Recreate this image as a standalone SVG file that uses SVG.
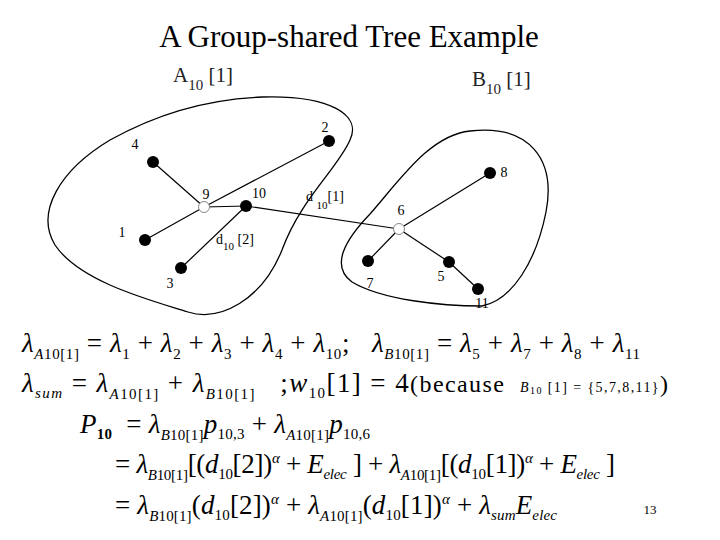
<svg xmlns="http://www.w3.org/2000/svg" width="720" height="540" viewBox="0 0 720 540" font-family="'Liberation Serif','DejaVu Serif','Times New Roman',serif">
<style>
text{font-family:'Liberation Serif','DejaVu Serif','Times New Roman',serif;fill:#000}
.n{font-size:14px}
.l{font-size:21px;fill:#222}
.e{font-size:27px;white-space:pre}
.i{font-style:italic}
.s{font-size:15px}
.blob{fill:none;stroke:#000;stroke-width:1.3}
.edge{stroke:#000;stroke-width:1.2}
.f{fill:#000}
.o{fill:#fff;stroke:#888;stroke-width:1}
</style>
<rect width="720" height="540" fill="#fff"/>
<text x="349" y="47" font-size="31" text-anchor="middle">A Group-shared Tree Example</text>
<text class="l" x="173" y="82">A<tspan font-size="15" dy="8">10</tspan><tspan dy="-8"> [1]</tspan></text>
<text class="l" x="472" y="86">B<tspan font-size="15" dy="8">10</tspan><tspan dy="-8"> [1]</tspan></text>
<path class="blob" d="M262,97 C330,95 362,115 350,140 C338,168 300,200 282,250 C262,300 220,322 188,312 C150,300 80,282 55,245 C35,212 60,170 110,140 C160,112 210,99 262,97 Z"/>
<path class="blob" d="M470,131 C530,124 556,160 546,212 C536,262 512,300 482,306 C442,306 382,300 352,282 C330,266 345,240 370,214 C400,180 430,135 470,131 Z"/>
<g id="connectors">
<line class="edge" x1="153" y1="162" x2="204" y2="207"/>
<line class="edge" x1="329" y1="141" x2="204" y2="207"/>
<line class="edge" x1="145" y1="240" x2="204" y2="207"/>
<line class="edge" x1="204" y1="207" x2="246" y2="206"/>
<line class="edge" x1="181" y1="268" x2="246" y2="206"/>
<line class="edge" x1="246" y1="206" x2="399" y2="229"/>
<line class="edge" x1="490" y1="173" x2="399" y2="229"/>
<line class="edge" x1="368" y1="261" x2="399" y2="229"/>
<line class="edge" x1="449" y1="262" x2="399" y2="229"/>
<line class="edge" x1="449" y1="262" x2="478" y2="289"/>
</g>
<g id="n4"><circle class="f" cx="153" cy="162" r="6"/><text class="n" x="135" y="149" text-anchor="middle">4</text></g>
<g id="n2"><circle class="f" cx="329" cy="141" r="6"/><text class="n" x="325" y="132" text-anchor="middle">2</text></g>
<g id="n9"><circle class="o" cx="204" cy="207" r="5.5"/><text class="n" x="206" y="199" text-anchor="middle">9</text></g>
<g id="n10"><circle class="f" cx="246" cy="206" r="6"/><text class="n" x="259" y="198" text-anchor="middle">10</text></g>
<g id="n1"><circle class="f" cx="145" cy="240" r="6"/><text class="n" x="122" y="237" text-anchor="middle">1</text></g>
<g id="n3"><circle class="f" cx="181" cy="268" r="6"/><text class="n" x="170" y="288" text-anchor="middle">3</text></g>
<g id="n6"><circle class="o" cx="399" cy="229" r="5.5"/><text class="n" x="401" y="215" text-anchor="middle">6</text></g>
<g id="n8"><circle class="f" cx="490" cy="173" r="6"/><text class="n" x="504" y="177" text-anchor="middle">8</text></g>
<g id="n7"><circle class="f" cx="368" cy="261" r="6"/><text class="n" x="370" y="288" text-anchor="middle">7</text></g>
<g id="n5"><circle class="f" cx="449" cy="262" r="6"/><text class="n" x="441" y="281" text-anchor="middle">5</text></g>
<g id="n11"><circle class="f" cx="478" cy="289" r="6"/><text class="n" x="482" y="308" text-anchor="middle">11</text></g>
<text class="n" x="306" y="201">d <tspan dy="8" font-size="11">10</tspan><tspan dy="-8">[1]</tspan></text>
<text class="n" x="216" y="244">d<tspan dy="6" font-size="11">10</tspan><tspan dy="-6"> [2]</tspan></text>
<g id="eq" xml:space="preserve">
<text class="e" x="22" y="352" textLength="618" lengthAdjust="spacing"><tspan class="i">λ</tspan><tspan class="s i" dy="7">A</tspan><tspan class="s" font-size="11">10</tspan><tspan class="s">[1]</tspan><tspan dy="-7"> = </tspan><tspan class="i">λ</tspan><tspan class="s" dy="7">1</tspan><tspan dy="-7"> + </tspan><tspan class="i">λ</tspan><tspan class="s" dy="7">2</tspan><tspan dy="-7"> + </tspan><tspan class="i">λ</tspan><tspan class="s" dy="7">3</tspan><tspan dy="-7"> + </tspan><tspan class="i">λ</tspan><tspan class="s" dy="7">4</tspan><tspan dy="-7"> + </tspan><tspan class="i">λ</tspan><tspan class="s" dy="7">10</tspan><tspan dy="-7">;   </tspan><tspan class="i">λ</tspan><tspan class="s i" dy="7">B</tspan><tspan class="s" font-size="11">10</tspan><tspan class="s">[1]</tspan><tspan dy="-7"> = </tspan><tspan class="i">λ</tspan><tspan class="s" dy="7">5</tspan><tspan dy="-7"> + </tspan><tspan class="i">λ</tspan><tspan class="s" dy="7">7</tspan><tspan dy="-7"> + </tspan><tspan class="i">λ</tspan><tspan class="s" dy="7">8</tspan><tspan dy="-7"> + </tspan><tspan class="i">λ</tspan><tspan class="s" dy="7">11</tspan></text>
<text class="e" x="22" y="392" textLength="646" lengthAdjust="spacing"><tspan class="i">λ</tspan><tspan class="s i" dy="6">sum</tspan><tspan dy="-6"> = </tspan><tspan class="i">λ</tspan><tspan class="s i" dy="7">A</tspan><tspan class="s" font-size="11">10</tspan><tspan class="s">[1]</tspan><tspan dy="-7"> + </tspan><tspan class="i">λ</tspan><tspan class="s i" dy="7">B</tspan><tspan class="s" font-size="11">10</tspan><tspan class="s">[1]</tspan><tspan dy="-7">   ;</tspan><tspan class="i">w</tspan><tspan class="s" dy="6">10</tspan><tspan dy="-6">[1] = 4</tspan><tspan font-size="24">(because  </tspan><tspan font-size="14" class="i">B</tspan><tspan font-size="10" dy="2">10</tspan><tspan font-size="14" dy="-2"> [1] = {5,7,8,11}</tspan><tspan font-size="24">)</tspan></text>
<text class="e" x="80" y="433" textLength="290" lengthAdjust="spacing"><tspan class="i">P</tspan><tspan class="s" font-weight="bold" dy="6">10</tspan><tspan dy="-6">  = </tspan><tspan class="i">λ</tspan><tspan class="s i" dy="7">B</tspan><tspan class="s" font-size="11">10</tspan><tspan class="s">[1]</tspan><tspan class="i" dy="-7">p</tspan><tspan class="s" dy="6">10,3</tspan><tspan dy="-6"> + </tspan><tspan class="i">λ</tspan><tspan class="s i" dy="7">A</tspan><tspan class="s" font-size="11">10</tspan><tspan class="s">[1]</tspan><tspan class="i" dy="-7">p</tspan><tspan class="s" dy="6">10,6</tspan></text>
<text class="e" x="115" y="473" textLength="500" lengthAdjust="spacing">= <tspan class="i">λ</tspan><tspan class="s i" dy="7">B</tspan><tspan class="s" font-size="11">10</tspan><tspan class="s">[1]</tspan><tspan dy="-7">[(</tspan><tspan class="i">d</tspan><tspan class="s" dy="6">10</tspan><tspan dy="-6">[2])</tspan><tspan class="s i" dy="-10">α</tspan><tspan dy="10"> + </tspan><tspan class="i">E</tspan><tspan class="s i" dy="6">elec</tspan><tspan dy="-6"> ] + </tspan><tspan class="i">λ</tspan><tspan class="s i" dy="7">A</tspan><tspan class="s" font-size="11">10</tspan><tspan class="s">[1]</tspan><tspan dy="-7">[(</tspan><tspan class="i">d</tspan><tspan class="s" dy="6">10</tspan><tspan dy="-6">[1])</tspan><tspan class="s i" dy="-10">α</tspan><tspan dy="10"> + </tspan><tspan class="i">E</tspan><tspan class="s i" dy="6">elec</tspan><tspan dy="-6"> ]</tspan></text>
<text class="e" x="115" y="514" textLength="442" lengthAdjust="spacing">= <tspan class="i">λ</tspan><tspan class="s i" dy="7">B</tspan><tspan class="s" font-size="11">10</tspan><tspan class="s">[1]</tspan><tspan dy="-7">(</tspan><tspan class="i">d</tspan><tspan class="s" dy="6">10</tspan><tspan dy="-6">[2])</tspan><tspan class="s i" dy="-10">α</tspan><tspan dy="10"> + </tspan><tspan class="i">λ</tspan><tspan class="s i" dy="7">A</tspan><tspan class="s" font-size="11">10</tspan><tspan class="s">[1]</tspan><tspan dy="-7">(</tspan><tspan class="i">d</tspan><tspan class="s" dy="6">10</tspan><tspan dy="-6">[1])</tspan><tspan class="s i" dy="-10">α</tspan><tspan dy="10"> + </tspan><tspan class="i">λ</tspan><tspan class="s i" dy="6">sum</tspan><tspan class="i" dy="-6">E</tspan><tspan class="s i" dy="6">elec</tspan></text>
<text x="650" y="514" font-size="13" text-anchor="middle">13</text>
</g>
</svg>
